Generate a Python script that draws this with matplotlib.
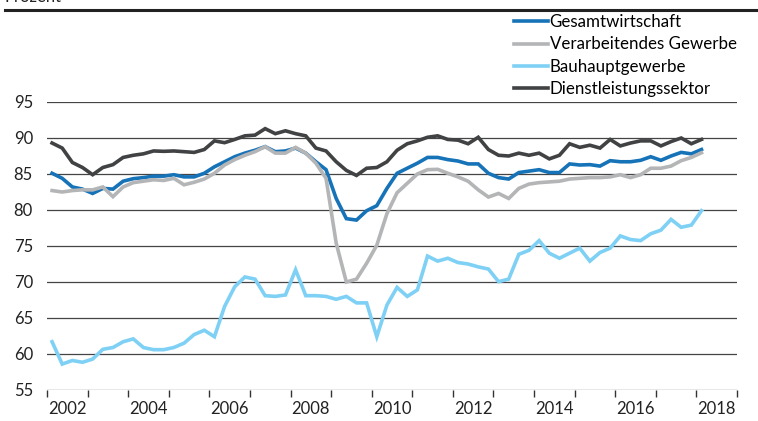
import matplotlib.pyplot as plt
from matplotlib.lines import Line2D
import numpy as np

plt.rcParams['font.family'] = ['Lato', 'DejaVu Sans']

# quarterly values, 2002Q1 .. 2018Q1
gesamt = [85.1, 84.4, 83.2, 82.9, 82.3, 83.0, 82.9, 84.0, 84.35, 84.5,
          84.7, 84.7, 84.9, 84.6, 84.6, 85.1, 86.0, 86.7, 87.4, 87.9,
          88.3, 88.8, 88.1, 88.2, 88.6, 87.9, 86.7, 85.6, 81.6, 78.8,
          78.6, 79.9, 80.6, 83.0, 85.1, 85.8, 86.5, 87.3, 87.3, 87.0,
          86.8, 86.4, 86.4, 85.1, 84.5, 84.3, 85.2, 85.4, 85.6, 85.2,
          85.2, 86.4, 86.25, 86.3, 86.1, 86.85, 86.7, 86.7, 86.9, 87.4,
          86.9, 87.5, 88.0, 87.8, 88.4]
verarb = [82.7, 82.5, 82.7, 82.8, 82.8, 83.2, 81.85, 83.2, 83.8, 84.0,
          84.2, 84.1, 84.4, 83.5, 83.85, 84.3, 85.1, 86.25, 87.0, 87.6,
          88.1, 88.8, 87.9, 87.9, 88.7, 87.9, 86.5, 84.4, 75.4, 70.0,
          70.4, 72.6, 75.1, 79.5, 82.4, 83.7, 85.0, 85.6, 85.65, 85.1,
          84.6, 84.0, 82.8, 81.8, 82.3, 81.6, 83.0, 83.6, 83.8, 83.9,
          84.0, 84.3, 84.4, 84.5, 84.5, 84.6, 84.9, 84.5, 84.9, 85.8,
          85.8, 86.1, 86.85, 87.3, 87.95]
bau = [61.7, 58.6, 59.1, 58.85, 59.3, 60.65, 60.9, 61.7, 62.1, 60.9,
       60.6, 60.6, 60.9, 61.5, 62.7, 63.3, 62.4, 66.6, 69.35, 70.7,
       70.4, 68.1, 68.0, 68.2, 71.7, 68.1, 68.1, 68.0, 67.6, 68.0,
       67.1, 67.1, 62.4, 66.8, 69.25, 68.0, 68.9, 73.6, 72.9, 73.3,
       72.7, 72.5, 72.1, 71.8, 70.05, 70.4, 73.85, 74.4, 75.75, 74.0,
       73.3, 74.0, 74.7, 72.9, 74.1, 74.7, 76.4, 75.9, 75.75, 76.7,
       77.2, 78.7, 77.6, 77.9, 79.9]
dienst = [89.3, 88.6, 86.6, 85.9, 84.9, 85.9, 86.3, 87.3, 87.6, 87.8,
          88.2, 88.15, 88.2, 88.1, 88.0, 88.4, 89.6, 89.35, 89.8, 90.3,
          90.4, 91.3, 90.6, 91.0, 90.6, 90.3, 88.6, 88.2, 86.7, 85.5,
          84.8, 85.8, 85.9, 86.7, 88.3, 89.2, 89.6, 90.1, 90.3, 89.8,
          89.7, 89.2, 90.1, 88.4, 87.6, 87.5, 87.9, 87.6, 87.9, 87.1,
          87.6, 89.2, 88.7, 89.0, 88.6, 89.8, 88.9, 89.3, 89.6, 89.6,
          88.9, 89.5, 90.0, 89.2, 89.8]

labels = ['Gesamtwirtschaft', 'Verarbeitendes Gewerbe',
          'Bauhauptgewerbe', 'Dienstleistungssektor']
colors = ['#1673b8', '#b4b5b7', '#7fd0f5', '#414243']

x = 2002 + (np.arange(len(gesamt)) + 0.5) / 4

fig = plt.figure(figsize=(7.58, 4.21), dpi=100)
ax = fig.add_axes([47 / 758, 1 - 390 / 421, 690 / 758, 288 / 421])

handles = []
for series, lab, col in zip([gesamt, verarb, bau, dienst], labels, colors):
    h, = ax.plot(x, series, color=col, lw=2.6, label=lab, solid_joinstyle='miter')
    handles.append(h)

ax.set_xlim(2002, 2019)
ax.set_ylim(55, 95)
ax.set_yticks(range(55, 100, 5))
ax.set_xticks(range(2002, 2020))
ax.set_xticklabels([])
ax.set_xticks([y + 0.5 for y in range(2002, 2019, 2)], minor=True)
ax.set_xticklabels([str(y) for y in range(2002, 2019, 2)], minor=True)
ax.tick_params(axis='x', which='major', length=5, width=1, color='#333333')
ax.tick_params(axis='x', which='minor', length=0, pad=8, labelsize=12, labelcolor='#222222')
ax.tick_params(axis='y', length=0, pad=24, labelsize=12, labelcolor='#222222')
for lab in ax.get_yticklabels():
    lab.set_horizontalalignment('left')

ax.grid(axis='y', color='#444444', lw=0.9)
ax.set_axisbelow(True)
for s in ax.spines.values():
    s.set_visible(False)

fig.legend(handles=handles, loc='upper left', bbox_to_anchor=(514 / 758, 1 - 14 / 421),
           frameon=False, fontsize=12.2, handlelength=2.0, handletextpad=0.1,
           labelspacing=0.38, borderpad=0, borderaxespad=0)

fig.add_artist(Line2D([5 / 758, 1], [1 - 10 / 421, 1 - 10 / 421], color='#222222', lw=2.2))
fig.text(5 / 758, 1 - 1.5 / 421, 'Prozent', fontsize=12, va='baseline', color='#222222')

plt.savefig('out.png', dpi=100)
